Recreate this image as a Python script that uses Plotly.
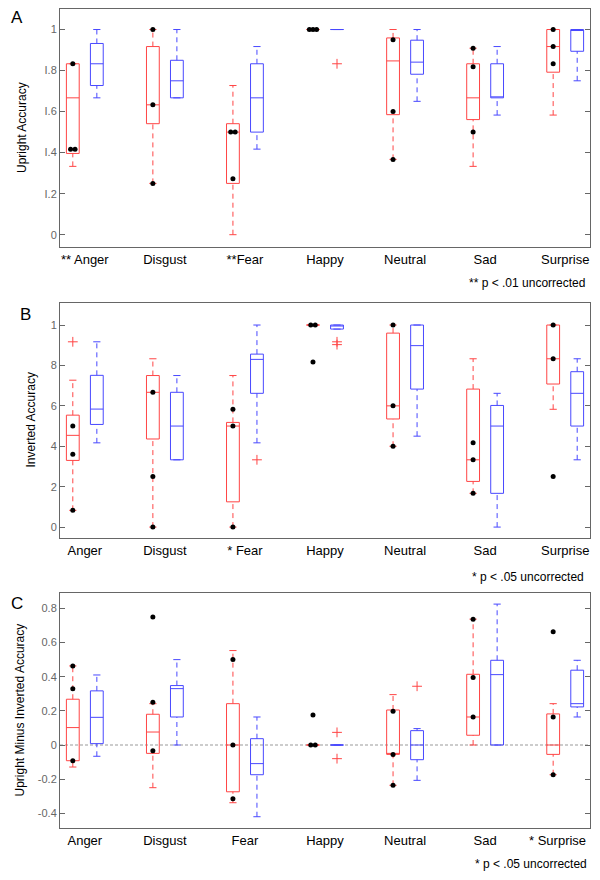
import plotly.graph_objs as go

cats = ["Anger", "Disgust", "Fear", "Happy", "Neutral", "Sad", "Surprise"]

labels_a = ["** Anger", "Disgust", "**Fear", "Happy", "Neutral", "Sad", "Surprise"]
labels_b = ["Anger", "Disgust", "* Fear", "Happy", "Neutral", "Sad", "Surprise"]
# last label of panel C is too wide for a centred tick label, it is placed as an annotation
labels_c = ["Anger", "Disgust", "Fear", "Happy", "Neutral", "Sad", ""]
label_c_last = "* Surprise"

# panel A - upright accuracy
a_red_q1 = [0.396, 0.541, 0.25, 1.0, 0.585, 0.561, 0.792]
a_red_med = [0.667, 0.633, 0.5, 1.0, 0.847, 0.667, 0.917]
a_red_q3 = [0.833, 0.917, 0.541, 1.0, 0.959, 0.833, 1.0]
a_red_lo = [0.333, 0.25, 0.0, 1.0, 0.367, 0.333, 0.583]
a_red_hi = [0.833, 1.0, 0.727, 1.0, 1.0, 0.909, 1.0]
a_red_dots = [[0.833, 0.417, 0.417], [1.0, 0.633, 0.25], [0.5, 0.5, 0.273], [1.0, 1.0, 1.0],
              [0.95, 0.6, 0.367], [0.909, 0.818, 0.5], [1.0, 0.917, 0.833]]
a_red_out = [[], [], [], [], [], [], []]

a_blue_q1 = [0.727, 0.667, 0.5, 1.0, 0.782, 0.667, 0.894]
a_blue_med = [0.833, 0.75, 0.667, 1.0, 0.841, 0.667, 1.0]
a_blue_q3 = [0.932, 0.85, 0.833, 1.0, 0.948, 0.833, 1.0]
a_blue_lo = [0.667, 0.667, 0.417, 1.0, 0.65, 0.583, 0.75]
a_blue_hi = [1.0, 1.0, 0.917, 1.0, 1.0, 0.917, 1.0]
a_blue_out = [[], [], [], [0.833], [], [], []]

# panel B - inverted accuracy
b_red_q1 = [0.330, 0.436, 0.125, 1.0, 0.535, 0.226, 0.708]
b_red_med = [0.454, 0.667, 0.5, 1.0, 0.6, 0.333, 0.833]
b_red_q3 = [0.554, 0.75, 0.518, 1.0, 0.96, 0.683, 1.0]
b_red_lo = [0.083, 0.0, 0.0, 1.0, 0.4, 0.167, 0.583]
b_red_hi = [0.727, 0.833, 0.75, 1.0, 1.0, 0.833, 1.0]
b_red_dots = [[0.5, 0.36, 0.083], [0.667, 0.25, 0.0], [0.583, 0.5, 0.0], [1.0, 1.0, 0.817],
              [1.0, 0.6, 0.4], [0.417, 0.333, 0.167], [1.0, 0.833, 0.25]]
b_red_out = [[0.917], [], [], [], [], [], []]

b_blue_q1 = [0.508, 0.333, 0.662, 0.98, 0.683, 0.167, 0.5]
b_blue_med = [0.584, 0.5, 0.83, 1.0, 0.898, 0.5, 0.662]
b_blue_q3 = [0.751, 0.667, 0.856, 1.0, 1.0, 0.602, 0.769]
b_blue_lo = [0.417, 0.333, 0.417, 0.98, 0.45, 0.0, 0.333]
b_blue_hi = [0.917, 0.75, 1.0, 1.0, 1.0, 0.662, 0.833]
b_blue_out = [[], [], [0.333], [0.917, 0.903], [], [], []]

# panel C - upright minus inverted
c_red_q1 = [-0.092, -0.049, -0.274, 0.0, -0.055, 0.057, -0.055]
c_red_med = [0.102, 0.076, 0.0, 0.0, -0.055, 0.164, 0.0]
c_red_q3 = [0.268, 0.18, 0.242, 0.0, 0.205, 0.414, 0.182]
c_red_lo = [-0.129, -0.25, -0.338, 0.0, -0.236, 0.0, -0.174]
c_red_hi = [0.463, 0.242, 0.553, 0.0, 0.295, 0.737, 0.242]
c_red_dots = [[0.463, 0.33, -0.092], [0.75, 0.25, -0.033], [0.5, 0.0, -0.315], [0.176, 0.0, 0.0],
              [0.197, -0.055, -0.236], [0.737, 0.395, 0.164], [0.663, 0.164, -0.174]]
c_red_out = [[], [], [], [], [], [], []]

c_blue_q1 = [0.008, 0.164, -0.174, 0.0, -0.086, 0.0, 0.223]
c_blue_med = [0.162, 0.33, -0.109, 0.0, 0.0, 0.412, 0.242]
c_blue_q3 = [0.317, 0.348, 0.037, 0.0, 0.084, 0.496, 0.438]
c_blue_lo = [-0.066, 0.0, -0.42, 0.0, -0.207, 0.0, 0.164]
c_blue_hi = [0.41, 0.5, 0.164, 0.0, 0.096, 0.825, 0.496]
c_blue_out = [[], [], [], [0.074, -0.08], [0.344], [], []]

yticks_a = [0, 0.2, 0.4, 0.6, 0.8, 1.0]
yticktext_a = ["0", "I.2", "I.4", "I.6", "I.8", "1"]
yticks_b = [0, 0.2, 0.4, 0.6, 0.8, 1.0]
yticktext_b = ["0", "2", "4", "6", "8", "1"]
yticks_c = [-0.4, -0.2, 0, 0.2, 0.4, 0.6, 0.8]
yticktext_c = ["-0.4", "-0.2", "0", "0.2", "0.4", "0.6", "0.8"]

RED = '#ff4545'
BLUE = '#4848ff'
FONT = "Liberation Sans, Arial, sans-serif"
# page has an 8px body margin, so the figure is drawn a bit smaller
OFF = 8
W, H = 584, 864


def px(x):
    return (x - OFF) / W


def py(y):
    return 1 - (y - OFF) / H


fig = go.Figure()


def add_series(pos, q1, med, q3, lo, hi, outs, color, xa, ya, dots=None):
    # box + median (whiskers drawn separately, dashed)
    fig.add_trace(go.Box(x=pos, q1=q1, median=med, q3=q3, lowerfence=q1, upperfence=q3,
                         width=0.16, whiskerwidth=0, line=dict(color=color, width=1),
                         fillcolor='rgba(0,0,0,0)', boxpoints=False, orientation='v',
                         xaxis=xa, yaxis=ya, hoverinfo='skip', showlegend=False))
    wx, wy, cx, cy = [], [], [], []
    for p, a, b, c, d in zip(pos, lo, q1, q3, hi):
        wx += [p, p, None, p, p, None]
        wy += [a, b, None, c, d, None]
        cx += [p - 0.045, p + 0.045, None, p - 0.045, p + 0.045, None]
        cy += [a, a, None, d, d, None]
    fig.add_trace(go.Scatter(x=wx, y=wy, mode='lines', line=dict(color=color, width=1, dash='5px,4px'),
                             xaxis=xa, yaxis=ya, hoverinfo='skip', showlegend=False))
    fig.add_trace(go.Scatter(x=cx, y=cy, mode='lines', line=dict(color=color, width=1),
                             xaxis=xa, yaxis=ya, hoverinfo='skip', showlegend=False))
    ox, oy = [], []
    for p, vals in zip(pos, outs):
        for v in vals:
            ox.append(p)
            oy.append(v)
    if ox:
        fig.add_trace(go.Scatter(x=ox, y=oy, mode='markers',
                                 marker=dict(symbol='cross-thin', size=7, line=dict(color=RED, width=1)),
                                 xaxis=xa, yaxis=ya, hoverinfo='skip', showlegend=False))
    if dots:
        dx, dy = [], []
        for p, vals in zip(pos, dots):
            groups = {}
            for v in vals:
                groups.setdefault(round(v, 3), []).append(v)
            for k, g in groups.items():
                offs = {1: [0], 2: [-0.028, 0.028], 3: [-0.045, 0, 0.045]}[len(g)]
                for o in offs:
                    dx.append(p + o)
                    dy.append(k)
        fig.add_trace(go.Scatter(x=dx, y=dy, mode='markers', marker=dict(color='black', size=5),
                                 xaxis=xa, yaxis=ya, hoverinfo='skip', showlegend=False))


xs = list(range(1, len(cats) + 1))
red_pos = [x - 0.15 for x in xs]
blue_pos = [x + 0.15 for x in xs]

add_series(red_pos, a_red_q1, a_red_med, a_red_q3, a_red_lo, a_red_hi, a_red_out, RED, 'x', 'y', a_red_dots)
add_series(blue_pos, a_blue_q1, a_blue_med, a_blue_q3, a_blue_lo, a_blue_hi, a_blue_out, BLUE, 'x', 'y')
add_series(red_pos, b_red_q1, b_red_med, b_red_q3, b_red_lo, b_red_hi, b_red_out, RED, 'x2', 'y2', b_red_dots)
add_series(blue_pos, b_blue_q1, b_blue_med, b_blue_q3, b_blue_lo, b_blue_hi, b_blue_out, BLUE, 'x2', 'y2')
add_series(red_pos, c_red_q1, c_red_med, c_red_q3, c_red_lo, c_red_hi, c_red_out, RED, 'x3', 'y3', c_red_dots)
add_series(blue_pos, c_blue_q1, c_blue_med, c_blue_q3, c_blue_lo, c_blue_hi, c_blue_out, BLUE, 'x3', 'y3')


def xax(labels, anchor):
    return dict(domain=[px(60), px(590)], range=[0.69, 7.31], tickvals=xs, ticktext=labels,
                ticks='', showline=True, linecolor='#666', linewidth=1, mirror=True,
                showgrid=False, zeroline=False, anchor=anchor,
                tickfont=dict(family=FONT, size=13, color='black'))


def yax(top, bottom, rng, tv, tt, anchor):
    return dict(domain=[py(bottom), py(top)], range=rng, tickvals=tv, ticktext=tt,
                ticks='inside', ticklen=5, tickcolor='#666', showline=True, linecolor='#666',
                linewidth=1, mirror='ticks', showgrid=False, zeroline=False, anchor=anchor,
                tickfont=dict(family=FONT, size=11, color='#666'))


fig.update_layout(
    width=W, height=H, autosize=False,
    margin=dict(l=0, r=0, t=0, b=0),
    paper_bgcolor='white', plot_bgcolor='white',
    font=dict(family=FONT),
    xaxis=xax(labels_a, 'y'),
    xaxis2=xax(labels_b, 'y2'),
    xaxis3=xax(labels_c, 'y3'),
    yaxis=yax(9, 247, [-0.06, 1.10], yticks_a, yticktext_a, 'x'),
    yaxis2=yax(303, 538, [-0.054, 1.109], yticks_b, yticktext_b, 'x2'),
    yaxis3=yax(593, 828, [-0.486, 0.89], yticks_c, yticktext_c, 'x3'),
)

# dashed zero line in panel C
fig.add_shape(type='line', xref='x3 domain', yref='y3', x0=0, x1=1, y0=0, y1=0,
              line=dict(color='#999', width=1, dash='3px,2px'), layer='below')

# last category label of panel C
fig.add_annotation(text=label_c_last, x=px(588), y=py(840), xref='paper', yref='paper',
                   xanchor='right', yanchor='middle', showarrow=False,
                   font=dict(family=FONT, size=13, color='black'))

for txt, x, y in [('A', 17, 18), ('B', 25, 314), ('C', 17, 603)]:
    fig.add_annotation(text=txt, x=px(x), y=py(y), xref='paper', yref='paper',
                       xanchor='center', yanchor='middle', showarrow=False,
                       font=dict(family=FONT, size=17, color='black'))

for txt, x, top, bottom in [("Upright Accuracy", 22, 9, 247),
                            ("Inverted Accuracy", 30, 303, 538),
                            ("Upright Minus Inverted Accuracy", 19, 593, 828)]:
    fig.add_annotation(text=txt, x=px(x), y=py((top + bottom) / 2), xref='paper', yref='paper',
                       xanchor='center', yanchor='middle', textangle=-90, showarrow=False,
                       font=dict(family=FONT, size=12, color='black'))

for txt, x, y in [("** p < .01 uncorrected", 587, 283),
                  ("* p < .05 uncorrected", 586, 577),
                  ("* p < .05 uncorrected", 589, 864)]:
    fig.add_annotation(text=txt, x=px(x), y=py(y), xref='paper', yref='paper',
                       xanchor='right', yanchor='middle', showarrow=False,
                       font=dict(family=FONT, size=12, color='black'))

fig.write_html("out.html")
